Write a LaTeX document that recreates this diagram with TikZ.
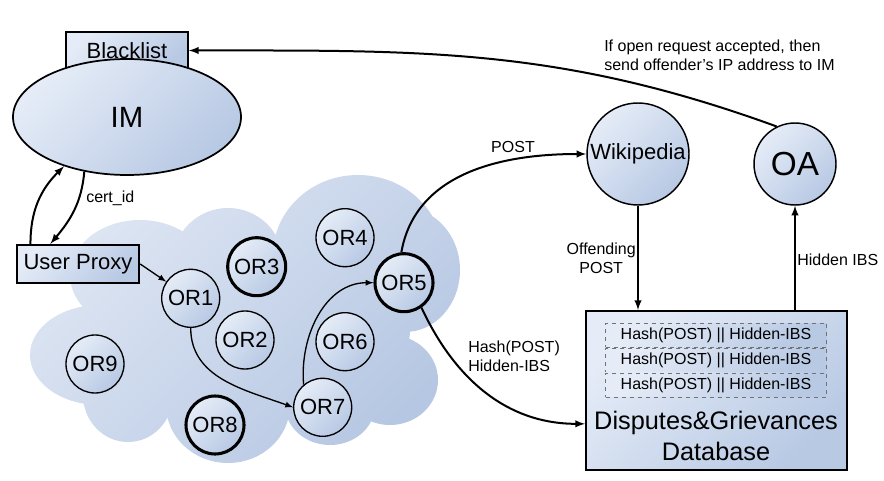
\documentclass[tikz,border=0pt]{standalone}
\usepackage{fontspec}
\setmainfont{Liberation Sans}
\usetikzlibrary{arrows,shapes,positioning}

\definecolor{lightblue}{RGB}{229,236,247}
\definecolor{darkblue}{RGB}{184,201,228}
\definecolor{cloudlight}{RGB}{222,230,243}
\definecolor{clouddark}{RGB}{182,199,227}

\newcommand{\orfont}{\fontsize{16.5}{19}\selectfont}
\newcommand{\notefont}{\fontsize{12}{14.5}\selectfont}

\begin{document}
\begin{tikzpicture}[x=0.75pt,y=-0.75pt,
  blue shade/.style={top color=lightblue,bottom color=darkblue,shading angle=45},
  router/.style={circle,draw,line width=1pt,blue shade,inner sep=0pt,minimum size=43.5pt,font=\orfont},
  hop/.style={router,line width=2.3pt},
  box/.style={rectangle,draw,line width=1.3pt,blue shade,inner sep=0pt,font=\orfont},
  row/.style={rectangle,draw=black!55,dashed,line width=0.6pt,blue shade,minimum width=165.75pt,minimum height=18pt,inner sep=0pt,font=\notefont},
  flow/.style={-latex,line width=1.5pt},
  link/.style={-latex,line width=1pt},
  note/.style={font=\notefont,inner sep=0pt}]

\useasboundingbox (0,0) rectangle (884,481);

% onion cloud
\shade[top color=cloudlight,bottom color=clouddark,shading angle=45]
  (140,275) ellipse (70 and 55)
  (228,262) ellipse (55 and 54)
  (358,255) ellipse (85 and 80)
  (405,270) ellipse (55 and 62)
  (390,380) ellipse (48 and 45)
  (330,405) ellipse (45 and 40)
  (228,405) ellipse (62 and 58)
  (128,395) ellipse (45 and 47)
  (100,355) ellipse (70 and 50)
  (265,330) ellipse (145 and 85);

% identity manager
\node[box,minimum width=91.5pt,minimum height=28pt] (BL) at (127,50.5) {Blacklist};
\node[ellipse,draw,line width=1.3pt,blue shade,minimum width=171pt,minimum height=87pt,inner sep=0pt,font=\fontsize{22}{24}\selectfont] (IM) at (127,117) {IM};
\node[box,minimum width=92pt,minimum height=29pt] (UP) at (78,264) {User Proxy};

% onion routers
\node[router] (OR1) at (190.7,298.3) {OR1};
\node[router] (OR2) at (245,340) {OR2};
\node[hop] (OR3) at (256.7,266.7) {OR3};
\node[router] (OR4) at (345,237.7) {OR4};
\node[hop] (OR5) at (404,282.7) {OR5};
\node[router] (OR6) at (345,341.7) {OR6};
\node[router] (OR7) at (322.7,407.3) {OR7};
\node[hop] (OR8) at (215,425) {OR8};
\node[router] (OR9) at (95,364) {OR9};

% server side
\node[router,minimum size=76.5pt,line width=1.1pt] (Wiki) at (638,154) {Wikipedia};
\node[router,minimum size=61.5pt,line width=1.1pt,font=\fontsize{25}{28}\selectfont] (OA) at (795,164) {OA};

\node[box,line width=1.5pt,minimum width=195.75pt,minimum height=119.25pt] (DB) at (716.5,390.5) {};
\node[row] (H1) at (716,335.3) {Hash(POST) || Hidden-IBS};
\node[row,below=0pt of H1] (H2) {Hash(POST) || Hidden-IBS};
\node[row,below=0pt of H2] (H3) {Hash(POST) || Hidden-IBS};
\node[font=\fontsize{19}{23}\selectfont,align=center,inner sep=0pt] (DBname) at (716,436) {Disputes\&Grievances\\Database};

% connectors
\draw[flow] (OA.116) to[out=160,in=0] (BL.east);
\node[note,anchor=west,align=left] (accept) at (604,55) {If open request accepted, then\\send offender's IP address to IM};

\draw[flow] (OR5.95) to[out=80,in=180] (Wiki.west);
\node[note] (post) at (513,147) {POST};
\draw[flow] (Wiki.south) -- (Wiki.south |- DB.north);
\node[note,anchor=east,align=center] (offend) at (636,258) {Offending\\POST};
\draw[flow] (OA.south |- DB.north) -- (OA.south);
\node[note,anchor=west] (hidden) at (797,260) {Hidden IBS};
\draw[flow] (OR5.-55) to[out=-65,in=180] ([yshift=-25pt]DB.west);
\node[note,anchor=west,align=left] (hashnote) at (468,356) {Hash(POST)\\Hidden-IBS};

\draw[flow] ([xshift=11pt]UP.north west) to[out=90,in=225] (IM.218);
\draw[flow] (IM.232) to[out=-95,in=50] ([xshift=26pt]UP.north west);
\node[note,anchor=west] (cert) at (86,198) {cert\_id};

\draw[link] (UP.east) -- (OR1);
\draw[link] (OR1.south) to[out=-90,in=160] (OR7.west);
\draw[link] (OR7.130) to[out=95,in=180] (OR5.west);

\end{tikzpicture}
\end{document}
